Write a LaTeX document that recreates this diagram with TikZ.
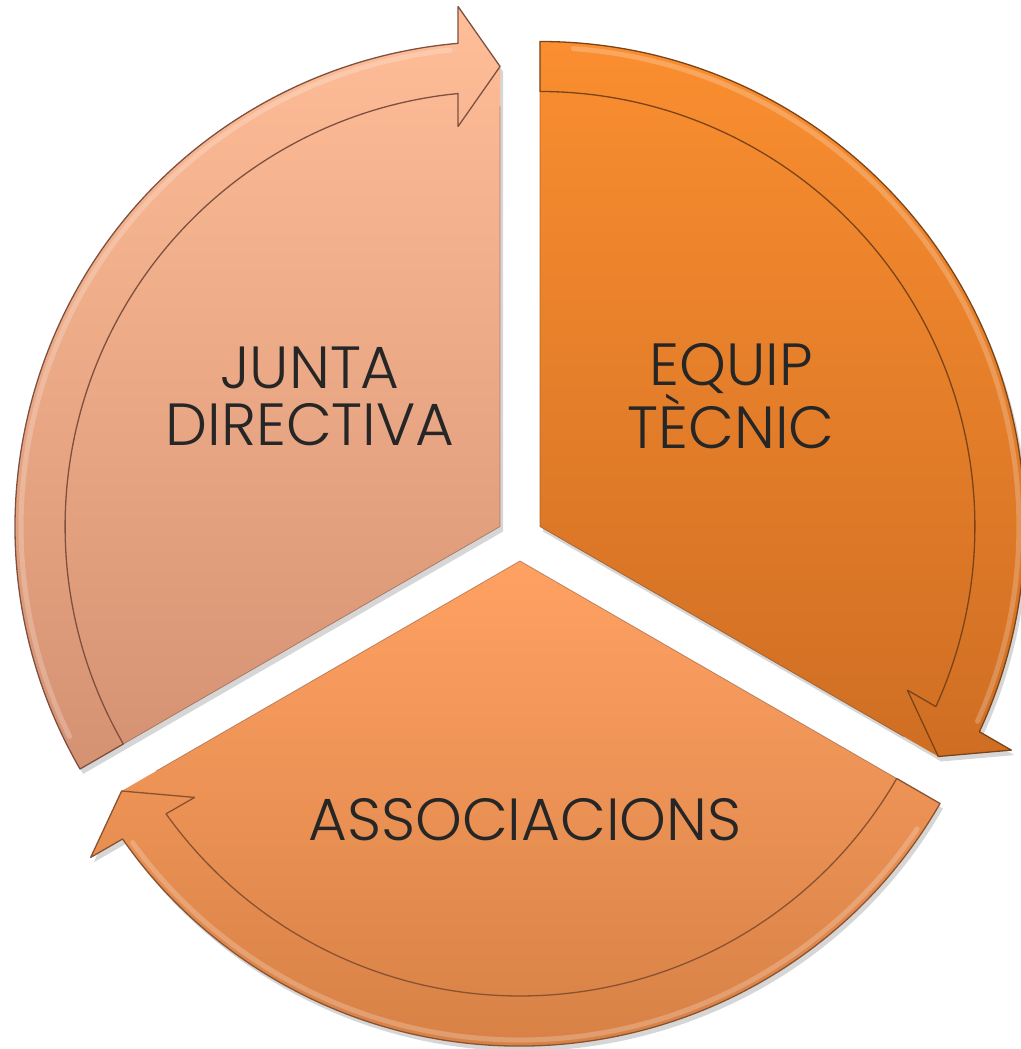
\documentclass[tikz,border=0pt]{standalone}
\usepackage{fontspec}
\setmainfont{Poppins Light}
\definecolor{jTop}{HTML}{FFBE98}
\definecolor{jBot}{HTML}{D59273}
\definecolor{eTop}{HTML}{FA8E30}
\definecolor{eBot}{HTML}{CF6E23}
\definecolor{aTop}{HTML}{FFA163}
\definecolor{aBot}{HTML}{D27D42}
\definecolor{jEdge}{HTML}{7E5040}
\definecolor{eEdge}{HTML}{7A4418}
\definecolor{aEdge}{HTML}{8A5230}
\definecolor{txt}{HTML}{262626}
\begin{document}
\begin{tikzpicture}[x=1pt,y=1pt,
  segbody/.style={insert path={(0,0) -- (#1+210:435) arc[start angle=#1+210, end angle=#1+96, radius=435] -- (#1+90:460) -- cycle}},
  segsides/.style={insert path={(#1+210:435) -- (0,0) -- (#1+90:420)}},
  segband/.style={insert path={(#1+210:435) -- (#1+210:485) arc[start angle=#1+210, end angle=#1+94.97, radius=485]
      -- (#1+94.62:521.7) -- (#1+90:460) -- (#1+96.0:402.2) -- (#1+95.54:435)
      arc[start angle=#1+95.54, end angle=#1+210, radius=435] -- cycle}},
  seghilite/.style={insert path={(#1+206:479) arc[start angle=#1+206, end angle=#1+96, radius=479]}},
  shadowfill/.style={fill=black, opacity=0.16},
  bandedge/.style={draw=#1, line width=1.3pt, line join=round},
  bodyedge/.style={draw=#1, line width=0.8pt, opacity=0.55, line join=round},
  hilite/.style={draw=white, line width=5pt, opacity=0.22, line cap=round},
  segtext/.style={text=txt, align=center, font=\fontsize{59.5}{57}\selectfont}
]
\useasboundingbox (-520,-511) rectangle (500,538);
% JUNTA DIRECTIVA (left)
\begin{scope}[shift={(150:23)}]
  \fill[shadowfill, shift={(3,-5)}, segbody=0, segband=0];
  \shade[top color=jTop, bottom color=jBot, segbody=0, segband=0];
  \path[bodyedge=jEdge, segsides=0];
  \path[bandedge=jEdge, segband=0];
  \path[hilite, seghilite=0];
\end{scope}
% EQUIP TECNIC (right)
\begin{scope}[shift={(30:23)}]
  \fill[shadowfill, shift={(3,-5)}, segbody=-120, segband=-120];
  \shade[top color=eTop, bottom color=eBot, segbody=-120, segband=-120];
  \path[bodyedge=eEdge, segsides=-120];
  \path[bandedge=eEdge, segband=-120];
  \path[hilite, seghilite=-120];
\end{scope}
% ASSOCIACIONS (bottom)
\begin{scope}[shift={(270:23)}]
  \fill[shadowfill, shift={(3,-5)}, segbody=120, segband=120];
  \shade[top color=aTop, bottom color=aBot, segbody=120, segband=120];
  \path[bodyedge=aEdge, segsides=120];
  \path[bandedge=aEdge, segband=120];
  \path[hilite, seghilite=120];
\end{scope}
\node[segtext] (junta) at (-210,142) {JUNTA\\DIRECTIVA};
\node[segtext] (equip) at (211,142) {EQUIP\\TÈCNIC};
\node[segtext] (assoc) at (5,-282) {ASSOCIACIONS};
\end{tikzpicture}
\end{document}
